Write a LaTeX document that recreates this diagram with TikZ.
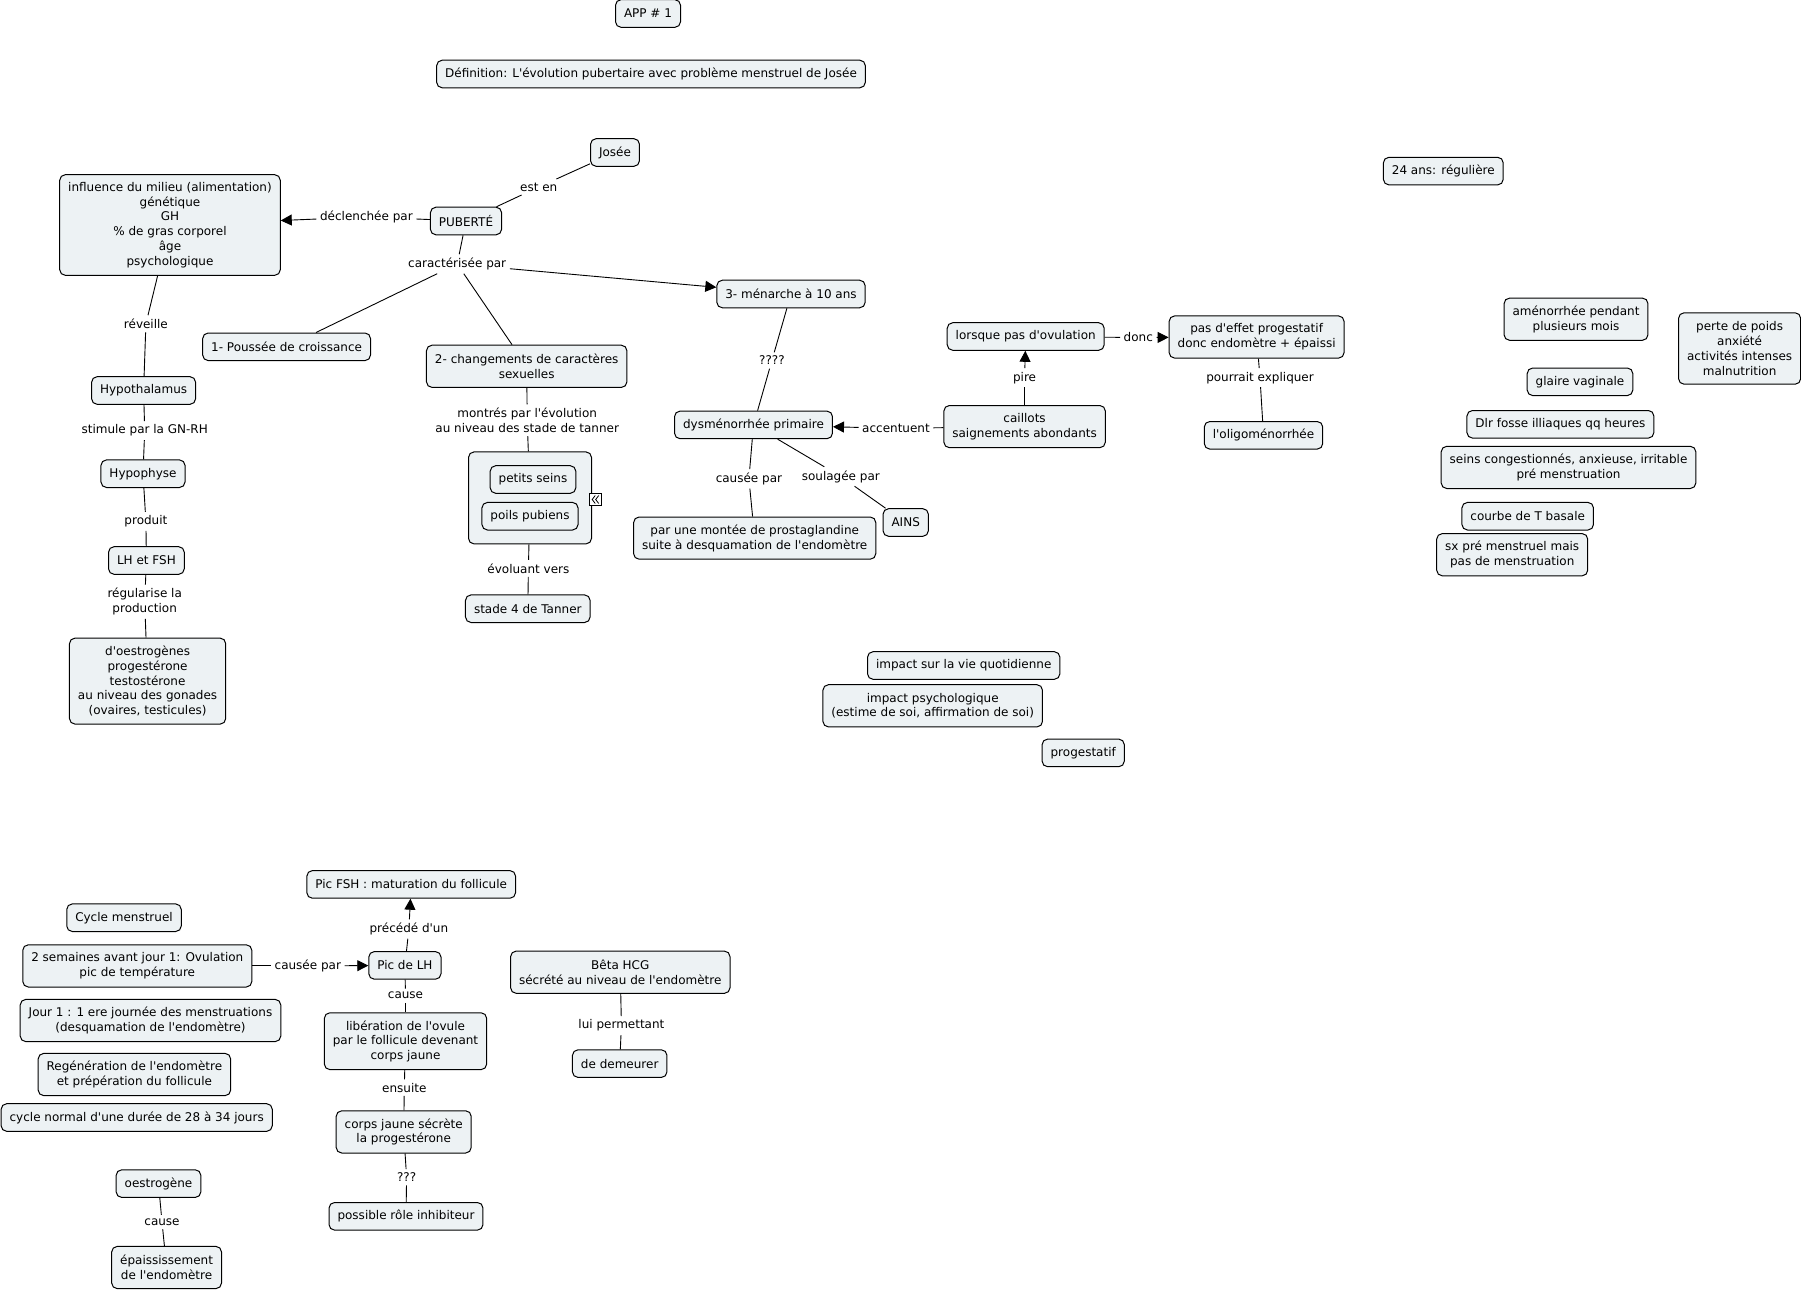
\documentclass[tikz,border=0pt]{standalone}
\usepackage{fontspec}
\setmainfont{DejaVu Sans}[Ligatures=TeXOff]
\usetikzlibrary{arrows.meta}
\definecolor{cmfill}{RGB}{237,242,244}
\newcommand\cmapfont{\fontsize{12}{14.7}\selectfont}
\tikzset{
  cm/.style={draw=black, line width=1pt, rounded corners=5.5pt, fill=cmfill,
    inner xsep=8.5pt, inner ysep=2pt, align=center, font=\cmapfont,
    minimum height={13pt+14.6pt*#1}},
  cm/.default=1,
  lp/.style={inner sep=3.5pt, align=center, font=\cmapfont},
  ln/.style={line width=0.9pt},
  ar/.style={line width=0.9pt, -{Triangle[length=11pt,width=11pt]}},
}
\begin{document}
\begin{tikzpicture}[x=1pt,y=-1pt]
\useasboundingbox (0,0) rectangle (1801,1290);
\fill[white] (0,0) rectangle (1801,1290);
% ---- concepts ----
\node[cm] (app) at (648,13.5) {APP \# 1};
\node[cm] (def) at (651,74) {Définition: L'évolution pubertaire avec problème menstruel de Josée};
\node[cm] (josee) at (615,152.5) {Josée};
\node[cm=6] (infl) at (170,225) {influence du milieu (alimentation)\\génétique\\GH\\\% de gras corporel\\âge\\psychologique};
\node[cm] (pub) at (466,221) {PUBERTÉ};
\node[cm] (men) at (791,294) {3- ménarche à 10 ans};
\node[cm] (pous) at (286.6,346.8) {1- Poussée de croissance};
\node[cm=2] (chg) at (526.7,366.3) {2- changements de caractères\\sexuelles};
\node[cm] (hypo) at (143.6,390.5) {Hypothalamus};
\node[cm] (hyph) at (143,473.7) {Hypophyse};
\node[cm] (lhfsh) at (146.4,560.5) {LH et FSH};
\node[cm=5] (horm) at (147.6,681.1) {d'oestrogènes\\progestérone\\testostérone\\au niveau des gonades\\(ovaires, testicules)};
\node[cm, minimum width=123pt, minimum height=92pt] (tan) at (530,497.9) {};
\node[cm] (ps) at (533,479.5) {petits seins};
\node[cm] (pp) at (530,516.2) {poils pubiens};
\node[draw=black, fill=white, line width=0.8pt, minimum size=12pt, inner sep=0pt] (ico) at (595.7,499.5) {};
\draw[line width=0.8pt] ([xshift=-0.5pt]ico.center) ++(0,-4) -- ++(-3,4) -- ++(3,4)
      ([xshift=3pt]ico.center) ++(0,-4) -- ++(-3,4) -- ++(3,4);
\node[cm] (st4) at (527.8,608.7) {stade 4 de Tanner};
\node[cm] (dys) at (753.5,424.9) {dysménorrhée primaire};
\node[cm=2] (prost) at (754.7,538.1) {par une montée de prostaglandine\\suite à desquamation de l'endomètre};
\node[cm] (ains) at (905.7,522.5) {AINS};
\node[cm] (lors) at (1025.7,336.5) {lorsque pas d'ovulation};
\node[cm=2] (pas) at (1256.6,337) {pas d'effet progestatif\\donc endomètre + épaissi};
\node[cm=2] (cail) at (1024.6,426.6) {caillots\\saignements abondants};
\node[cm] (oligo) at (1263.5,435.3) {l'oligoménorrhée};
\node[cm] (ans) at (1443.3,171.1) {24 ans: régulière};
\node[cm=2] (amen) at (1576,319.2) {aménorrhée pendant\\plusieurs mois};
\node[cm=4] (perte) at (1739.6,348.5) {perte de poids\\anxiété\\activités intenses\\malnutrition};
\node[cm] (glaire) at (1580,381.8) {glaire vaginale};
\node[cm] (dlr) at (1560.4,424.3) {Dlr fosse illiaques qq heures};
\node[cm=2] (seins) at (1568.5,467.4) {seins congestionnés, anxieuse, irritable\\pré menstruation};
\node[cm] (courbe) at (1527.7,516.2) {courbe de T basale};
\node[cm=2] (sx) at (1512.2,554.7) {sx pré menstruel mais\\pas de menstruation};
\node[cm] (vie) at (963.7,665.5) {impact sur la vie quotidienne};
\node[cm=2] (psy) at (932.7,705.8) {impact psychologique\\(estime de soi, affirmation de soi)};
\node[cm] (prog) at (1083.2,752.9) {progestatif};
\node[cm] (fsh) at (411.2,884.4) {Pic FSH : maturation du follicule};
\node[cm] (cyc) at (124,917.7) {Cycle menstruel};
\node[cm=2] (sem) at (137.3,965.9) {2 semaines avant jour 1: Ovulation\\pic de température};
\node[cm] (lh) at (404.9,965.4) {Pic de LH};
\node[cm=2] (hcg) at (620.3,972.2) {Bêta HCG\\sécrété au niveau de l'endomètre};
\node[cm=2] (jour) at (150.5,1020.5) {Jour 1 : 1 ere journée des menstruations\\(desquamation de l'endomètre)};
\node[cm=3] (lib) at (405.5,1041.2) {libération de l'ovule\\par le follicule devenant\\corps jaune};
\node[cm] (dem) at (619.7,1063.6) {de demeurer};
\node[cm=2] (regen) at (134.4,1074.5) {Regénération de l'endomètre\\et prépération du follicule};
\node[cm] (norm) at (136.7,1117.5) {cycle normal d'une durée de 28 à 34 jours};
\node[cm=2] (cj) at (403.7,1131.9) {corps jaune sécrète\\la progestérone};
\node[cm] (oes) at (158.5,1183.6) {oestrogène};
\node[cm] (poss) at (406,1216.3) {possible rôle inhibiteur};
\node[cm=2] (epa) at (166.6,1267.5) {épaississement\\de l'endomètre};
% ---- linking phrases ----
\node[lp] (esten) at (538.7,187) {est en};
\node[lp] (decl) at (366.4,217) {déclenchée par};
\node[lp] (carac) at (457.2,264) {caractérisée par};
\node[lp] (rev) at (145.9,323.8) {réveille};
\node[lp] (stim) at (144.7,430.6) {stimule par la GN-RH};
\node[lp] (prod) at (145.9,521.3) {produit};
\node[lp] (regu) at (144.7,601.7) {régularise la\\production};
\node[lp] (mont) at (527.2,420.2) {montrés par l'évolution\\au niveau des stade de tanner};
\node[lp] (evol) at (528.4,568.4) {évoluant vers};
\node[lp] (q4) at (771.9,360.5) {????};
\node[lp] (acc) at (896,428.3) {accentuent};
\node[lp] (caus) at (748.9,478.8) {causée par};
\node[lp] (soul) at (840.8,476.5) {soulagée par};
\node[lp] (pire) at (1024.6,377.7) {pire};
\node[lp] (donc) at (1138.3,337.5) {donc};
\node[lp] (pourr) at (1260,377.7) {pourrait expliquer};
\node[lp] (prec) at (408.9,929) {précédé d'un};
\node[lp] (caus2) at (307.8,965.9) {causée par};
\node[lp] (cause) at (405.5,995.7) {cause};
\node[lp] (ens) at (404.3,1087.6) {ensuite};
\node[lp] (q3) at (406.6,1177.2) {???};
\node[lp] (lui) at (621.4,1025.6) {lui permettant};
\node[lp] (cause2) at (162,1222) {cause};
% ---- connectors ----
\draw[ln] (josee) -- (esten);
\draw[ln] (esten) -- (pub);
\draw[ln] (pub) -- (decl);
\draw[ar] (decl) -- (infl);
\draw[ln] (pub) -- (carac);
\draw[ar] (carac) -- (men);
\draw[ln] (carac) -- (pous);
\draw[ln] (carac) -- (chg);
\draw[ln] (infl) -- (rev);
\draw[ln] (rev) -- (hypo);
\draw[ln] (hypo) -- (stim);
\draw[ln] (stim) -- (hyph);
\draw[ln] (hyph) -- (prod);
\draw[ln] (prod) -- (lhfsh);
\draw[ln] (lhfsh) -- (regu);
\draw[ln] (regu) -- (horm);
\draw[ln] (chg) -- (mont);
\draw[ln] (mont) -- (tan);
\draw[ln] (tan) -- (evol);
\draw[ln] (evol) -- (st4);
\draw[ln] (men) -- (q4);
\draw[ln] (q4) -- (dys);
\draw[ln] (cail) -- (acc);
\draw[ar] (acc) -- (dys);
\draw[ln] (cail) -- (pire);
\draw[ar] (pire) -- (lors);
\draw[ln] (lors) -- (donc);
\draw[ar] (donc) -- (pas);
\draw[ln] (pas) -- (pourr);
\draw[ln] (pourr) -- (oligo);
\draw[ln] (dys) -- (caus);
\draw[ln] (caus) -- (prost);
\draw[ln] (dys) -- (soul);
\draw[ln] (soul) -- (ains);
\draw[ln] (lh) -- (prec);
\draw[ar] (prec) -- (fsh);
\draw[ln] (sem) -- (caus2);
\draw[ar] (caus2) -- (lh);
\draw[ln] (lh) -- (cause);
\draw[ln] (cause) -- (lib);
\draw[ln] (lib) -- (ens);
\draw[ln] (ens) -- (cj);
\draw[ln] (cj) -- (q3);
\draw[ln] (q3) -- (poss);
\draw[ln] (hcg) -- (lui);
\draw[ln] (lui) -- (dem);
\draw[ln] (oes) -- (cause2);
\draw[ln] (cause2) -- (epa);
\end{tikzpicture}
\end{document}
